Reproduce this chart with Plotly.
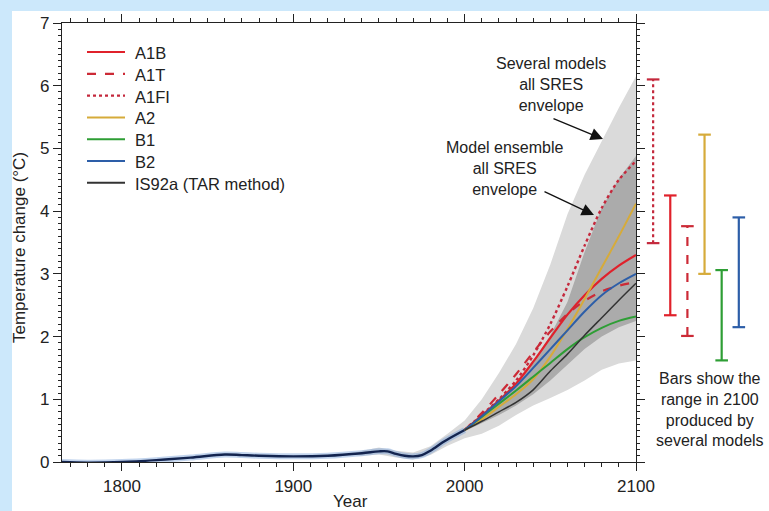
import plotly.graph_objects as go

# ---------------- data ----------------
hist_years = [1765, 1780, 1800, 1820, 1840, 1860, 1870, 1880, 1900, 1920, 1940, 1950, 1955,
              1960, 1965, 1970, 1975, 1980, 1987, 1990, 2000]
hist_temp = [0.0, -0.01, 0.0, 0.03, 0.07, 0.12, 0.11, 0.10, 0.09, 0.10, 0.14, 0.17, 0.17,
             0.13, 0.10, 0.09, 0.11, 0.18, 0.31, 0.36, 0.51]

proj_years = [2000, 2010, 2020, 2030, 2040, 2050, 2060, 2070, 2080, 2090, 2100]
a1b = [0.51, 0.74, 0.98, 1.25, 1.60, 1.98, 2.35, 2.66, 2.92, 3.13, 3.30]
a1t = [0.51, 0.78, 1.08, 1.40, 1.75, 2.08, 2.36, 2.57, 2.72, 2.81, 2.87]
a1fi = [0.51, 0.75, 1.00, 1.30, 1.70, 2.20, 2.80, 3.45, 4.05, 4.50, 4.80]
a2 = [0.51, 0.68, 0.88, 1.08, 1.32, 1.68, 2.12, 2.60, 3.10, 3.60, 4.12]
b1 = [0.51, 0.72, 0.93, 1.14, 1.36, 1.58, 1.80, 1.99, 2.14, 2.25, 2.32]
b2 = [0.51, 0.73, 0.97, 1.21, 1.50, 1.80, 2.10, 2.40, 2.66, 2.85, 3.00]
is92a = [0.51, 0.65, 0.80, 0.95, 1.15, 1.45, 1.72, 2.02, 2.30, 2.58, 2.85]

env_light_years = [1935, 1940, 1950, 1960, 1970, 1980, 1990, 2000, 2010, 2020, 2030, 2040,
                   2050, 2060, 2070, 2080, 2090, 2100]
env_light_upper = [0.13, 0.18, 0.23, 0.18, 0.15, 0.25, 0.45, 0.66, 1.00, 1.42, 1.88, 2.45,
                   3.15, 3.95, 4.58, 5.12, 5.65, 6.15]
env_light_lower = [0.11, 0.10, 0.12, 0.07, 0.04, 0.11, 0.26, 0.38, 0.45, 0.58, 0.75, 0.90,
                   1.02, 1.15, 1.30, 1.47, 1.57, 1.62]

env_dark_years = [2000, 2010, 2020, 2030, 2040, 2050, 2060, 2070, 2080, 2090, 2100]
env_dark_upper = [0.53, 0.76, 1.00, 1.27, 1.60, 2.02, 2.55, 3.35, 4.05, 4.52, 4.88]
env_dark_lower = [0.49, 0.62, 0.75, 0.90, 1.08, 1.30, 1.55, 1.80, 2.00, 2.15, 2.25]

bar_names = ["A1FI", "A1B", "A1T", "A2", "B1", "B2"]
bar_pos = [2110, 2120, 2130, 2140, 2150, 2160]
bar_low = [3.49, 2.34, 2.01, 3.00, 1.62, 2.15]
bar_high = [6.10, 4.25, 3.76, 5.22, 3.06, 3.90]

legend_names = ["A1B", "A1T", "A1FI", "A2", "B1", "B2", "IS92a (TAR method)"]

# ---------------- styles ----------------
W, H = 769, 511
ML, MR, MT, MB = 62, 0, 23, 49
PW, PH = W - ML - MR, H - MT - MB
XR = (1765, 2100)
XPX = 574  # main x-axis pixel length
FONT = "Liberation Sans, Arial, Helvetica, sans-serif"
FS = 17


def px(X):
    return (X - ML) / PW


def py(Y):
    return (H - MB - Y) / PH


def yr(X):
    return XR[0] + (X - ML) * (XR[1] - XR[0]) / XPX


def tv(Y):
    return (H - MB - Y) * 7 / PH


RED = "#e0212b"
RED2 = "#cc2a36"
RED3 = "#c4283c"
GOLD = "#d6ab3a"
GREEN = "#2e9e35"
BLUE = "#2d5ea8"
BLACK = "#333333"

styles = {
    "A1B": dict(color=RED, dash="solid", width=2.2),
    "A1T": dict(color=RED2, dash="dash", width=2.2),
    "A1FI": dict(color=RED3, dash="dot", width=2.4),
    "A2": dict(color=GOLD, dash="solid", width=2.0),
    "B1": dict(color=GREEN, dash="solid", width=2.0),
    "B2": dict(color=BLUE, dash="solid", width=2.0),
    "IS92a (TAR method)": dict(color=BLACK, dash="solid", width=1.5),
}

fig = go.Figure()

# envelopes
fig.add_trace(go.Scatter(x=env_light_years + env_light_years[::-1],
                         y=env_light_upper + env_light_lower[::-1],
                         fill="toself", fillcolor="#dadada", line=dict(width=0),
                         mode="lines", showlegend=False, hoverinfo="skip"))
fig.add_trace(go.Scatter(x=env_dark_years + env_dark_years[::-1],
                         y=env_dark_upper + env_dark_lower[::-1],
                         fill="toself", fillcolor="#ababab", line=dict(width=0),
                         mode="lines", showlegend=False, hoverinfo="skip"))

# history halo + line
fig.add_trace(go.Scatter(x=hist_years, y=hist_temp, mode="lines",
                         line=dict(color="rgba(120,160,215,0.45)", width=6, shape="spline"),
                         showlegend=False, hoverinfo="skip"))
fig.add_trace(go.Scatter(x=hist_years, y=hist_temp, mode="lines",
                         line=dict(color="#13244f", width=2.4, shape="spline"),
                         showlegend=False, hoverinfo="skip"))

series = [("A1B", a1b), ("A1T", a1t), ("A1FI", a1fi), ("A2", a2), ("B1", b1), ("B2", b2),
          ("IS92a (TAR method)", is92a)]
for name, vals in series:
    s = styles[name]
    fig.add_trace(go.Scatter(x=proj_years, y=vals, mode="lines", name=name,
                             line=dict(color=s["color"], dash=s["dash"], width=s["width"],
                                       shape="spline", smoothing=0.8),
                             showlegend=False))

# range bars in 2100
for name, xp, lo, hi in zip(bar_names, bar_pos, bar_low, bar_high):
    s = styles[name]
    fig.add_trace(go.Scatter(x=[xp, xp], y=[lo, hi], mode="lines", xaxis="x2", yaxis="y",
                             line=dict(color=s["color"], dash=s["dash"], width=2.2),
                             showlegend=False, hoverinfo="skip", cliponaxis=False))
    fig.add_trace(go.Scatter(x=[xp, xp], y=[lo, hi], mode="markers", xaxis="x2", yaxis="y",
                             marker=dict(symbol="line-ew", size=9,
                                         line=dict(color=s["color"], width=2.2)),
                             showlegend=False, hoverinfo="skip", cliponaxis=False))

anns = []


def txt(s, X, Y, size=FS, angle=0, anchor="center"):
    anns.append(dict(text=s, xref="paper", yref="paper", x=px(X), y=py(Y),
                     xanchor=anchor, yanchor="middle", showarrow=False, align="center",
                     textangle=angle, font=dict(family=FONT, size=size, color="#222222")))


# legend (drawn as key lines + labels)
for i, name in enumerate(legend_names):
    s = styles[name]
    Yc = 52 + 21.8 * i
    fig.add_trace(go.Scatter(x=[yr(87), yr(125)], y=[tv(Yc), tv(Yc)], mode="lines",
                             line=dict(color=s["color"], dash=s["dash"],
                                       width=max(s["width"], 2.0)),
                             showlegend=False, hoverinfo="skip"))
    txt(name, 133, Yc + 1, size=16.5, anchor="left")

axis_common = dict(showline=True, linecolor="#222222", linewidth=1.2, ticks="outside",
                   tickcolor="#222222", tickwidth=1.2, ticklen=8, mirror="ticks",
                   showgrid=False, zeroline=False,
                   tickfont=dict(family=FONT, size=17, color="#222222"))

fig.update_layout(
    width=W, height=H, autosize=False,
    margin=dict(l=ML, r=MR, t=MT, b=MB, autoexpand=False),
    paper_bgcolor="#cce8fb", plot_bgcolor="white",
    font=dict(family=FONT, size=FS, color="#222222"),
    showlegend=False,
    xaxis=dict(domain=[0, XPX / PW], range=list(XR), tick0=1800, dtick=100,
               minor=dict(dtick=10, tick0=1800, ticklen=4, ticks="outside",
                          tickcolor="#222222", tickwidth=1), **axis_common),
    xaxis2=dict(domain=[XPX / PW, 1], range=[2100, 2100 + (PW - XPX) * (XR[1] - XR[0]) / XPX],
                anchor="y", visible=False),
    yaxis=dict(range=[0, 7], tick0=0, dtick=1,
               minor=dict(dtick=0.1, ticklen=3, ticks="outside",
                          tickcolor="#222222", tickwidth=1), **axis_common),
    shapes=[dict(type="rect", xref="paper", yref="paper", x0=px(12), x1=1.0,
                 y0=py(H + 5), y1=py(11), fillcolor="white", line=dict(width=0),
                 layer="below")],
)

txt("Several models<br>all SRES<br>envelope", 551, 85, size=16)
txt("Model ensemble<br>all SRES<br>envelope", 505, 168, size=16)
txt("Bars show the<br>range in 2100<br>produced by<br>several models", 710, 409, size=16)
txt("Temperature change (°C)", 19, 248, angle=-90)
txt("Year", 350, 502)

# arrows
for tip, tail in [((603, 139), (552, 118)), ((594, 215), (543, 191))]:
    anns.append(dict(text="", xref="paper", yref="paper", x=px(tip[0]), y=py(tip[1]),
                     ax=tail[0] - tip[0], ay=tail[1] - tip[1], showarrow=True,
                     arrowhead=2, arrowsize=1.9, arrowwidth=1.3, arrowcolor="#111111"))

fig.update_layout(annotations=anns)
fig.write_html("out.html", config={"responsive": False, "displayModeBar": False},
               post_script="document.body.style.margin='0';document.body.style.overflow='hidden';")
